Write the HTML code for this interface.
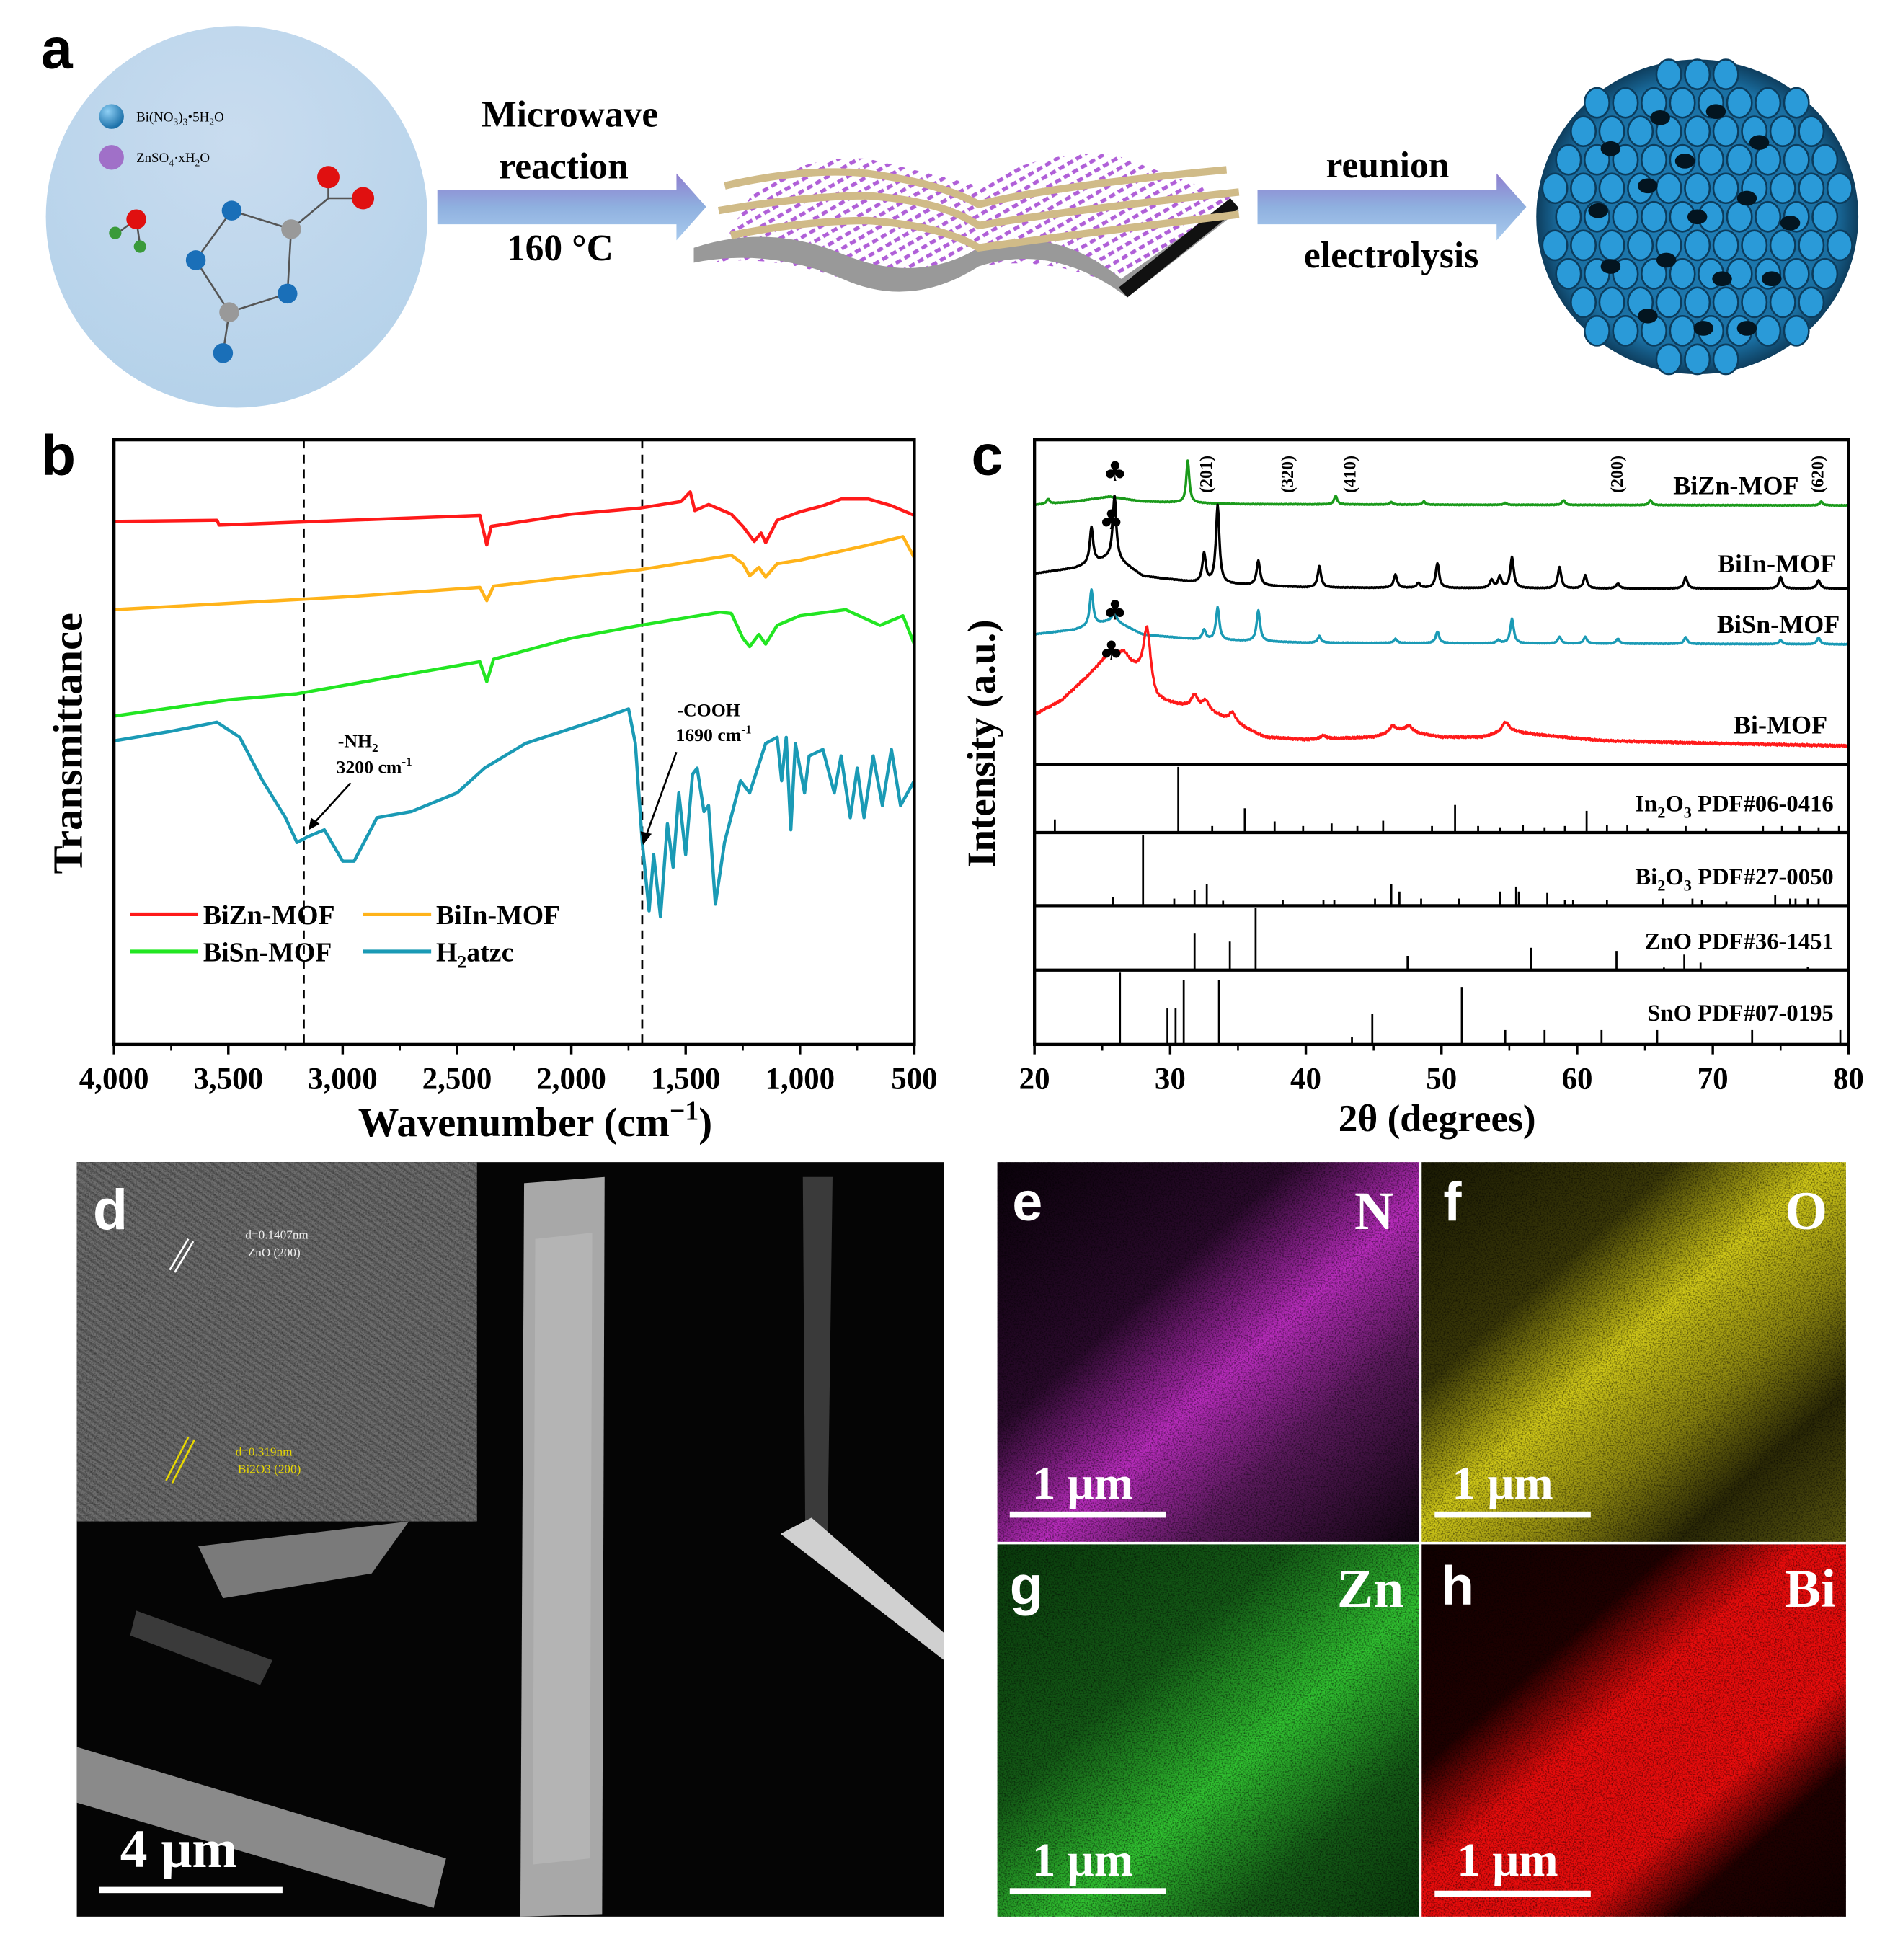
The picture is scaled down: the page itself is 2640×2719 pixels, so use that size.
<!DOCTYPE html>
<html><head><meta charset="utf-8">
<style>
html,body{margin:0;padding:0;background:#fff;}
svg{display:block;}
.serif{font-family:"Liberation Serif",serif;font-weight:bold;}
.sans{font-family:"Liberation Sans",sans-serif;font-weight:bold;}
</style></head>
<body>
<svg id="fig" width="2640" height="2719" viewBox="0 0 1536 1582" xmlns="http://www.w3.org/2000/svg">
<defs>
<radialGradient id="circG" cx="50%" cy="30%" r="70%"><stop offset="0" stop-color="#c9dcef"/><stop offset="1" stop-color="#b5d2ea"/></radialGradient>
<linearGradient id="arrG" x1="0" y1="0" x2="0" y2="1"><stop offset="0" stop-color="#8f7ecf"/><stop offset="0.5" stop-color="#8fb0df"/><stop offset="1" stop-color="#a9cbee"/></linearGradient>
<pattern id="hatch" width="8" height="8" patternUnits="userSpaceOnUse" patternTransform="rotate(-30)"><rect width="8" height="8" fill="#fff"/><rect width="5" height="3" fill="#b060d8"/></pattern>
<radialGradient id="ball" cx="35%" cy="30%" r="70%"><stop offset="0" stop-color="#8fd0f5"/><stop offset="1" stop-color="#1a6fa8"/></radialGradient>
<radialGradient id="sph" cx="50%" cy="50%" r="50%"><stop offset="0" stop-color="#1f7fb8"/><stop offset="0.85" stop-color="#1a6fa2"/><stop offset="1" stop-color="#0e3e5e"/></radialGradient>
<filter id="noise" x="0" y="0" width="100%" height="100%"><feTurbulence type="fractalNoise" baseFrequency="0.9" numOctaves="1" seed="3"/><feColorMatrix type="matrix" values="0 0 0 0 0  0 0 0 0 0  0 0 0 0 0  0 0 0 -2.6 1.5"/></filter>
<linearGradient id="bandN" x1="0" y1="0" x2="1" y2="1"><stop offset="0" stop-color="#0a020a"/><stop offset="0.35" stop-color="#2a0a2c"/><stop offset="0.55" stop-color="#b82cbc"/><stop offset="0.72" stop-color="#5a1a5c"/><stop offset="1" stop-color="#100410"/></linearGradient>
<linearGradient id="bandO" x1="0" y1="0" x2="1" y2="1"><stop offset="0" stop-color="#1a1a04"/><stop offset="0.3" stop-color="#3a3808"/><stop offset="0.48" stop-color="#d0c818"/><stop offset="0.65" stop-color="#8a8410"/><stop offset="0.8" stop-color="#2a2806"/><stop offset="1" stop-color="#5a5810"/></linearGradient>
<linearGradient id="bandZ" x1="0" y1="0" x2="1" y2="1"><stop offset="0" stop-color="#0a3a0c"/><stop offset="0.35" stop-color="#145a16"/><stop offset="0.58" stop-color="#30c030"/><stop offset="0.78" stop-color="#145a16"/><stop offset="1" stop-color="#0a3a0c"/></linearGradient>
<linearGradient id="bandB" x1="0" y1="0" x2="1" y2="1"><stop offset="0" stop-color="#100000"/><stop offset="0.3" stop-color="#200000"/><stop offset="0.45" stop-color="#e80c0c"/><stop offset="0.68" stop-color="#e80c0c"/><stop offset="0.8" stop-color="#200000"/><stop offset="1" stop-color="#100000"/></linearGradient>
<pattern id="lattice" width="5" height="5" patternUnits="userSpaceOnUse" patternTransform="rotate(35)"><rect width="5" height="5" fill="#6e6e6e"/><rect width="5" height="2" fill="#5a5a5a"/></pattern>
</defs>

<!-- ===== Panel a ===== -->
<g>
<text x="33" y="55" class="sans" font-size="46">a</text>
<circle cx="191" cy="175" r="154" fill="url(#circG)"/>
<circle cx="90" cy="94" r="10" fill="url(#ball)"/>
<text x="110" y="98" class="serif" font-size="11" style="font-weight:normal">Bi(NO<tspan font-size="8" dy="3">3</tspan><tspan dy="-3">)</tspan><tspan font-size="8" dy="3">3</tspan><tspan dy="-3">•5H</tspan><tspan font-size="8" dy="3">2</tspan><tspan dy="-3">O</tspan></text>
<circle cx="90" cy="127" r="10" fill="#a070c8"/>
<text x="110" y="131" class="serif" font-size="11" style="font-weight:normal">ZnSO<tspan font-size="8" dy="3">4</tspan><tspan dy="-3">·xH</tspan><tspan font-size="8" dy="3">2</tspan><tspan dy="-3">O</tspan></text>
<g stroke="#555" stroke-width="1.5">
<line x1="187" y1="170" x2="235" y2="185"/><line x1="235" y1="185" x2="265" y2="160"/><line x1="265" y1="160" x2="265" y2="143"/><line x1="265" y1="160" x2="292" y2="160"/>
<line x1="187" y1="170" x2="158" y2="210"/><line x1="158" y1="210" x2="185" y2="252"/><line x1="235" y1="185" x2="232" y2="237"/><line x1="232" y1="237" x2="185" y2="252"/><line x1="185" y1="252" x2="180" y2="285"/>
<line x1="110" y1="177" x2="95" y2="188"/><line x1="110" y1="177" x2="113" y2="198"/>
</g>
<circle cx="187" cy="170" r="8" fill="#1a6fb8"/><circle cx="158" cy="210" r="8" fill="#1a6fb8"/><circle cx="232" cy="237" r="8" fill="#1a6fb8"/><circle cx="180" cy="285" r="8" fill="#1a6fb8"/>
<circle cx="235" cy="185" r="8" fill="#999"/><circle cx="185" cy="252" r="8" fill="#999"/>
<circle cx="265" cy="143" r="9" fill="#e01010"/><circle cx="293" cy="160" r="9" fill="#e01010"/><circle cx="110" cy="177" r="8" fill="#e01010"/>
<circle cx="93" cy="188" r="5" fill="#3a9a3a"/><circle cx="113" cy="199" r="5" fill="#3a9a3a"/>

<polygon points="353,153 546,153 546,140 570,167 546,194 546,181 353,181" fill="url(#arrG)"/>
<text x="460" y="102" text-anchor="middle" class="serif" font-size="30">Microwave</text>
<text x="455" y="144" text-anchor="middle" class="serif" font-size="30">reaction</text>
<text x="452" y="210" text-anchor="middle" class="serif" font-size="30">160 °C</text>

<g>
<path d="M605,160 Q640,125 700,128 Q750,140 790,150 Q840,120 900,125 L995,160 L910,235 Q850,205 790,215 Q730,240 680,225 Q620,205 575,212 Z" fill="url(#hatch)"/>
<path d="M560,200 Q620,180 680,205 Q740,230 790,200 Q850,180 905,225 L995,162 L1000,170 L910,240 Q850,195 790,215 Q735,250 680,225 Q620,200 560,212 Z" fill="#999"/>
<path d="M903,232 L993,160 L1000,168 L910,240 Z" fill="#111"/>
<path d="M585,150 Q650,135 700,140 Q760,148 790,165 Q850,150 990,137" fill="none" stroke="#d0bb88" stroke-width="6"/>
<path d="M580,170 Q650,158 700,158 Q760,162 790,182 Q860,170 1000,155" fill="none" stroke="#d0bb88" stroke-width="6"/>
<path d="M590,190 Q650,178 700,178 Q760,182 790,200 Q860,190 1000,173" fill="none" stroke="#d0bb88" stroke-width="6"/>
</g>

<polygon points="1015,153 1208,153 1208,140 1232,167 1208,194 1208,181 1015,181" fill="url(#arrG)"/>
<text x="1120" y="143" text-anchor="middle" class="serif" font-size="30">reunion</text>
<text x="1123" y="216" text-anchor="middle" class="serif" font-size="30">electrolysis</text>

<g>
<ellipse cx="1370" cy="175" rx="130" ry="127" fill="url(#sph)"/>
<g id="sphHoles"></g>
</g>
</g>

<!-- ===== Panel b ===== -->
<g>
<text x="33" y="383" class="sans" font-size="46">b</text>
<g id="ftir"></g>
<rect x="92" y="355" width="646" height="488" fill="none" stroke="#000" stroke-width="2.5"/>
<text transform="translate(66,600) rotate(-90)" text-anchor="middle" class="serif" font-size="34">Transmittance</text>
<text x="432" y="917" text-anchor="middle" class="serif" font-size="33">Wavenumber (cm<tspan font-size="22" dy="-13">−1</tspan><tspan dy="13">)</tspan></text>
<text x="289" y="603" text-anchor="middle" class="serif" font-size="15">-NH<tspan font-size="10" dy="4">2</tspan></text>
<text x="302" y="624" text-anchor="middle" class="serif" font-size="15">3200 cm<tspan font-size="10" dy="-6">-1</tspan></text>
<line x1="283" y1="632" x2="252" y2="666" stroke="#000" stroke-width="1.5"/>
<polygon points="249,670 251,660 258,665" fill="#000"/>
<text x="572" y="578" text-anchor="middle" class="serif" font-size="15">-COOH</text>
<text x="576" y="598" text-anchor="middle" class="serif" font-size="15">1690 cm<tspan font-size="10" dy="-6">-1</tspan></text>
<line x1="546" y1="607" x2="521" y2="676" stroke="#000" stroke-width="1.5"/>
<polygon points="519,682 517,671 526,673" fill="#000"/>
</g>

<!-- ===== Panel c ===== -->
<g>
<text x="784" y="383" class="sans" font-size="46">c</text>
<g id="xrd"></g>
<rect x="835" y="355" width="657" height="488" fill="none" stroke="#000" stroke-width="2.5"/>
<text transform="translate(803,600) rotate(-90)" text-anchor="middle" class="serif" font-size="32">Intensity (a.u.)</text>
<text x="1160" y="913" text-anchor="middle" class="serif" font-size="31">2θ (degrees)</text>
</g>

<!-- ===== Panel d ===== -->
<g>
<rect x="62" y="938" width="700" height="609" fill="#050505"/>
<polygon points="423,955 488,950 486,1545 420,1547" fill="#a8a8a8"/>
<polygon points="432,1000 478,995 476,1500 430,1505" fill="#c0c0c0" opacity="0.5"/>
<polygon points="648,950 672,950 668,1240 650,1240" fill="#3a3a3a"/>
<polygon points="630,1238 655,1225 762,1318 762,1340" fill="#d0d0d0"/>
<polygon points="62,1410 360,1500 350,1540 62,1455" fill="#8a8a8a"/>
<polygon points="160,1248 330,1228 300,1270 180,1290" fill="#7a7a7a"/>
<polygon points="110,1300 220,1340 210,1360 105,1320" fill="#3a3a3a"/>
<rect x="62" y="938" width="323" height="290" fill="url(#lattice)"/>
<rect x="62" y="938" width="323" height="290" fill="#777" opacity="0.35" filter="url(#noise)"/>
<text x="75" y="992" class="sans" font-size="46" fill="#fff">d</text>
<line x1="137" y1="1025" x2="152" y2="1000" stroke="#fff" stroke-width="1.5"/><line x1="141" y1="1027" x2="156" y2="1002" stroke="#fff" stroke-width="1.5"/>
<text x="198" y="1000" class="serif" font-size="10" fill="#eee" style="font-weight:normal">d=0.1407nm</text>
<text x="200" y="1014" class="serif" font-size="10" fill="#eee" style="font-weight:normal">ZnO (200)</text>
<line x1="134" y1="1195" x2="152" y2="1160" stroke="#e8d800" stroke-width="1.5"/><line x1="139" y1="1197" x2="157" y2="1162" stroke="#e8d800" stroke-width="1.5"/>
<text x="190" y="1175" class="serif" font-size="10" fill="#e8d800" style="font-weight:normal">d=0.319nm</text>
<text x="192" y="1189" class="serif" font-size="10" fill="#e8d800" style="font-weight:normal">Bi2O3 (200)</text>
<rect x="80" y="1523" width="148" height="5" fill="#fff"/>
<text x="97" y="1507" class="serif" font-size="44" fill="#fff">4 μm</text>
</g>

<!-- ===== Panels e-h ===== -->
<g>
<rect x="805" y="938" width="341" height="307" fill="url(#bandN)"/>
<rect x="1147" y="938" width="343" height="307" fill="url(#bandO)"/>
<rect x="805" y="1246" width="341" height="301" fill="url(#bandZ)"/>
<rect x="1147" y="1246" width="343" height="301" fill="url(#bandB)"/>
<rect x="805" y="938" width="685" height="609" fill="#000" opacity="0.55" filter="url(#noise)"/>
<line x1="1146.5" y1="938" x2="1146.5" y2="1547" stroke="#fff" stroke-width="2"/>
<line x1="805" y1="1245.5" x2="1490" y2="1245.5" stroke="#fff" stroke-width="2"/>
<text x="817" y="985" class="sans" font-size="44" fill="#fff">e</text>
<text x="1165" y="985" class="sans" font-size="44" fill="#fff">f</text>
<text x="815" y="1295" class="sans" font-size="44" fill="#fff">g</text>
<text x="1163" y="1295" class="sans" font-size="44" fill="#fff">h</text>
<text x="1125" y="992" text-anchor="end" class="serif" font-size="44" fill="#fff">N</text>
<text x="1475" y="992" text-anchor="end" class="serif" font-size="44" fill="#fff">O</text>
<text x="1133" y="1297" text-anchor="end" class="serif" font-size="44" fill="#fff">Zn</text>
<text x="1482" y="1297" text-anchor="end" class="serif" font-size="44" fill="#fff">Bi</text>
<rect x="815" y="1220" width="126" height="5" fill="#fff"/>
<text x="833" y="1210" class="serif" font-size="38" fill="#fff">1 μm</text>
<rect x="1158" y="1220" width="126" height="5" fill="#fff"/>
<text x="1172" y="1210" class="serif" font-size="38" fill="#fff">1 μm</text>
<rect x="815" y="1524" width="126" height="5" fill="#fff"/>
<text x="833" y="1514" class="serif" font-size="38" fill="#fff">1 μm</text>
<rect x="1158" y="1526" width="126" height="5" fill="#fff"/>
<text x="1176" y="1514" class="serif" font-size="38" fill="#fff">1 μm</text>
</g>
</svg>

<script>
// ---------- FTIR data (wavenumber cm-1, transmittance a.u.) ----------
const ftirTicks = [4000,3500,3000,2500,2000,1500,1000,500];
const ftirTickLabels = ["4,000","3,500","3,000","2,500","2,000","1,500","1,000","500"];
const biznW = [4000,3550,3540,2400,2370,2350,2000,1700,1520,1480,1460,1400,1300,1250,1200,1170,1150,1100,1000,900,820,700,600,500];
const biznT = [86.5,86.7,85.9,87.5,82.6,85.7,87.7,88.7,89.8,91.4,88.3,89.3,87.7,85.7,83.2,84.6,83.0,86.7,88.1,89.1,90.2,90.2,89.1,87.5];
const biinW = [4000,3000,2400,2370,2340,2000,1700,1300,1250,1220,1180,1150,1100,1000,700,550,500];
const biinT = [71.9,74.0,75.6,73.4,75.8,77.3,78.5,80.9,79.5,77.5,78.9,77.3,79.5,80.1,82.6,84.0,80.5];
const bisnW = [4000,3500,3200,2900,2400,2370,2340,2000,1700,1350,1300,1250,1220,1180,1150,1100,1000,800,650,550,500];
const bisnT = [54.3,57.0,58.0,60.0,63.3,60.0,63.7,67.2,69.3,71.5,71.3,67.2,65.8,67.8,66.2,69.3,70.9,71.9,69.3,70.9,66.2];
const h2W = [4000,3750,3550,3450,3350,3250,3200,3150,3080,3000,2950,2850,2700,2500,2380,2200,1900,1750,1720,1690,1660,1640,1610,1580,1555,1530,1500,1470,1450,1420,1400,1370,1330,1260,1220,1150,1100,1080,1060,1040,1020,1000,980,960,900,850,820,780,750,720,680,640,600,560,530,500];
const h2T = [50.2,51.8,53.3,50.8,43.6,37.5,33.4,34.4,35.5,30.3,30.3,37.5,38.5,41.6,45.7,49.8,53.5,55.5,49.8,33.4,22.1,31.4,21.1,36.5,29.3,41.6,31.4,44.7,45.7,38.5,39.5,23.2,33.4,43.6,41.6,49.8,50.8,43.6,50.8,35.5,49.8,45.7,41.6,47.7,48.8,41.6,47.7,37.5,45.7,37.5,47.7,39.5,48.8,39.5,41.6,43.6];
const ftirNames = ["BiZn-MOF","BiIn-MOF","BiSn-MOF","H₂atzc"];
const ftirColors = ["#ff1a1a","#ffb31a","#22e622","#1a9ab5"];
const dashedW = [3170,1690];

// ---------- XRD data (2θ degrees, intensity a.u.) ----------
const xrdTicks = [20,30,40,50,60,70,80];
const bizBaseX = [20,23,25.5,28,35,50,80];
const bizBaseY = [80.0,81.0,82.5,81.0,80.2,80.0,79.8];
const bizPkX = [21,31.3,42.2,46.3,48.7,54.7,59,65.4,78];
const bizPkH = [1.5,13,2.7,0.8,1,0.6,1.5,1.5,1.2];
const biinBaseX = [20,23,25.8,28,32,40,60,80];
const biinBaseY = [58.8,60.5,64,58,56.0,54.5,54.2,54.2];
const biinPkX = [24.2,25.9,32.5,33.5,36.5,41,46.6,48.3,49.7,53.7,54.3,55.2,58.7,60.6,63,68,75,77.8];
const biinPkH = [11,19,9,24,7.6,6.5,4,1.5,7.6,2.5,3.5,9.5,6.5,4,1.5,3.5,3.5,2.5];
const bisnBaseX = [20,23,25.8,28,32,40,80];
const bisnBaseY = [40.1,41.5,44.5,40,38.5,37.5,37.0];
const bisnPkX = [24.2,25.9,32.5,33.5,36.5,41,46.6,49.7,54.2,55.2,58.7,60.6,63,68,75,77.8];
const bisnPkH = [11,3,3,10,9.5,2,1.2,3.5,1,7.5,2,2,1.5,2,1.2,2];
const bimBaseX = [20,22,24,25.7,27,28,29,31,33,35,37,40,45,47,50,53,55,57,59,62,70,80];
const bimBaseY = [15.3,19.8,27.5,35.1,31.3,27.5,19.8,17.9,16.0,12.2,8.4,7.6,8.4,10.3,8.4,8.4,10.3,9.2,8.4,7.3,6.5,5.7];
const bimPkX = [26.6,28.3,31.8,32.6,34.6,41.3,46.4,47.6,54.7];
const bimPkH = [2,17,4,3,3,1,2,2,3];
const refLabelsHtml = [
  'In<tspan font-size="13" dy="5">2</tspan><tspan dy="-5">O</tspan><tspan font-size="13" dy="5">3</tspan><tspan dy="-5"> PDF#06-0416</tspan>',
  'Bi<tspan font-size="13" dy="5">2</tspan><tspan dy="-5">O</tspan><tspan font-size="13" dy="5">3</tspan><tspan dy="-5"> PDF#27-0050</tspan>',
  'ZnO PDF#36-1451',
  'SnO PDF#07-0195'];
const in2o3X = [21.5,30.6,33.1,35.5,37.7,39.8,41.9,43.8,45.7,49.3,51.0,52.7,54.3,56.0,57.6,59.1,60.7,62.2,63.7,65.2,68,69.5,73.7,75.1,76.4,77.8,79.3];
const in2o3H = [0.2,1.0,0.1,0.37,0.17,0.1,0.14,0.1,0.18,0.1,0.42,0.1,0.08,0.12,0.08,0.1,0.33,0.12,0.12,0.06,0.1,0.06,0.1,0.1,0.1,0.08,0.1];
const bi2o3X = [25.8,28.0,30.3,31.8,32.7,33.9,38.3,41.3,42.1,45.1,46.3,46.9,48.5,51.3,54.3,55.5,55.7,57.8,59.1,59.7,62.2,66.3,68.5,69.2,71,74.6,75.7,76.1,77,77.8];
const bi2o3H = [0.12,1.0,0.1,0.22,0.3,0.07,0.08,0.08,0.08,0.1,0.3,0.2,0.1,0.1,0.2,0.27,0.2,0.18,0.08,0.08,0.08,0.1,0.1,0.08,0.06,0.15,0.1,0.1,0.1,0.1];
const znoX = [31.8,34.4,36.3,47.5,56.6,62.9,66.4,67.9,69.1,72.6,77];
const znoH = [0.6,0.46,1.0,0.23,0.36,0.31,0.04,0.25,0.12,0.02,0.05];
const snoX = [26.3,29.8,30.4,31.0,33.6,43.4,44.9,51.5,54.7,57.6,61.8,65.9,72.9,79.4];
const snoH = [1.0,0.5,0.5,0.9,0.9,0.1,0.42,0.8,0.2,0.2,0.2,0.2,0.2,0.2];
const millerLabels = ["(201)","(320)","(410)","(200)","(620)"];
const millerX = [32.6,38.6,43.2,62.9,77.7];

const NS = "http://www.w3.org/2000/svg";
function mk(tag, attrs, parent){ const e=document.createElementNS(NS,tag); for(const k in attrs) e.setAttribute(k,attrs[k]); parent.appendChild(e); return e; }

// FTIR axes
const bx = w => 92 + (4000 - w) / 3500 * 646;
const by = v => 843 - v * 4.88;
const ftir = document.getElementById('ftir');
dashedW.forEach(w=>{
  const l = mk('line',{x1:bx(w),x2:bx(w),y1:355,y2:843,stroke:'#000','stroke-width':1.6,'stroke-dasharray':'7,5'},ftir);
  
  
});
[[biznW,biznT],[biinW,biinT],[bisnW,bisnT],[h2W,h2T]].forEach((s,si)=>{
  let d='';
  s[0].forEach((w,i)=>{ d += (i?'L':'M') + bx(w).toFixed(1) + ',' + by(s[1][i]).toFixed(1); });
  const p = mk('path',{d:d,fill:'none',stroke:ftirColors[si],'stroke-width':2.6,'stroke-linejoin':'round'},ftir);
  
  
});
ftirTicks.forEach((t,i)=>{
  mk('line',{x1:bx(t),x2:bx(t),y1:843,y2:851,stroke:'#000','stroke-width':2},ftir);
  if(i<ftirTicks.length-1) mk('line',{x1:bx(t-250),x2:bx(t-250),y1:843,y2:848,stroke:'#000','stroke-width':1.5},ftir);
  const tx = mk('text',{x:bx(t),y:879,'text-anchor':'middle','class':'serif','font-size':25},ftir);
  tx.textContent = ftirTickLabels[i];
  
  
});
const legPos = [[105,738],[293,738],[105,768],[293,768]];
ftirNames.forEach((n,i)=>{
  const [lx,ly]=legPos[i];
  const ln = mk('line',{x1:lx,x2:lx+55,y1:ly,y2:ly,stroke:ftirColors[i],'stroke-width':3},ftir);
  
  
  const t = mk('text',{x:lx+59,y:ly+8,'class':'serif','font-size':22},ftir);
  if(i===3){ t.innerHTML='H<tspan font-size="15" dy="5">2</tspan><tspan dy="-5">atzc</tspan>'; } else t.textContent=n;
  
  
});

// XRD axes
const cx = t => 835 + (t - 20) / 60 * 657;
const cyTop = v => 617 - v * 2.62;
const xrd = document.getElementById('xrd');
function interp(xs, ys, x){
  if(x<=xs[0]) return ys[0];
  for(let i=1;i<xs.length;i++){ if(x<=xs[i]){ const f=(x-xs[i-1])/(xs[i]-xs[i-1]); return ys[i-1]+f*(ys[i]-ys[i-1]); } }
  return ys[ys.length-1];
}
function pattern(bX,bY,pX,pH,w){
  const pts=[];
  for(let t=20;t<=80.001;t+=0.05){
    let v=interp(bX,bY,t);
    pX.forEach((p,i)=>{ const dd=(t-p)/w; v+=pH[i]/(1+dd*dd); });
    pts.push([t,v]);
  }
  return pts;
}
const xrdSeries = [
  ['bizn-mof','#1a9a1a',bizBaseX,bizBaseY,bizPkX,bizPkH,0.13],
  ['biin-mof','#000000',biinBaseX,biinBaseY,biinPkX,biinPkH,0.15],
  ['bisn-mof','#1a9ab5',bisnBaseX,bisnBaseY,bisnPkX,bisnPkH,0.15],
  ['bi-mof','#ff1a1a',bimBaseX,bimBaseY,bimPkX,bimPkH,0.3]
];
xrdSeries.forEach(s=>{
  const pts=pattern(s[2],s[3],s[4],s[5],s[6]);
  let d='';
  pts.forEach((p,i)=>{ const nz = s[0]==='bi-mof' ? (((i*131)%17)-8)/10 : (((i*37)%7)-3)/12; d+=(i?'L':'M')+cx(p[0]).toFixed(1)+','+(cyTop(p[1])+nz).toFixed(1); });
  const p = mk('path',{d:d,fill:'none',stroke:s[1],'stroke-width':2,'stroke-linejoin':'round'},xrd);
  
  
});
const refPanels = [[617,672,in2o3X,in2o3H],[672,731,bi2o3X,bi2o3H],[731,783,znoX,znoH],[783,843,snoX,snoH]];
const refLabelY = [655,714,766,824];
refPanels.forEach((r,ri)=>{
  const [top,bot,xs,hs]=r;
  const sep = mk('line',{x1:835,x2:1492,y1:top,y2:top,stroke:'#000','stroke-width':2.5},xrd);
  
  
  xs.forEach((x,i)=>{
    const l = mk('line',{x1:cx(x),x2:cx(x),y1:bot,y2:bot-hs[i]*(bot-top-2),stroke:'#000','stroke-width':1.6},xrd);
    
    
  });
  const t = mk('text',{x:1480,y:refLabelY[ri],'text-anchor':'end','class':'serif','font-size':19},xrd);
  t.innerHTML = refLabelsHtml[ri];
  
  
});
const sampLab = [['BiZn-MOF',1452,399],['BiIn-MOF',1482,462],['BiSn-MOF',1485,511],['Bi-MOF',1475,592]];
sampLab.forEach(s=>{
  const t = mk('text',{x:s[1],y:s[2],'text-anchor':'end','class':'serif','font-size':21},xrd);
  t.textContent=s[0];
  
  
});
millerLabels.forEach((m,i)=>{
  const t = mk('text',{transform:'translate('+(cx(millerX[i])+5)+',398) rotate(-90)','class':'serif','font-size':14},xrd);
  t.textContent=m;
  
  
});
[[900,388],[897,427],[900,500],[897,533]].forEach(c=>{
  const t = mk('text',{x:c[0],y:c[1],'text-anchor':'middle','font-size':22,'font-family':'DejaVu Sans, sans-serif'},xrd);
  t.textContent='♣';
  
  
});
xrdTicks.forEach((t,i)=>{
  mk('line',{x1:cx(t),x2:cx(t),y1:843,y2:851,stroke:'#000','stroke-width':2},xrd);
  if(i<xrdTicks.length-1) mk('line',{x1:cx(t+5),x2:cx(t+5),y1:843,y2:848,stroke:'#000','stroke-width':1.5},xrd);
  const tx = mk('text',{x:cx(t),y:879,'text-anchor':'middle','class':'serif','font-size':25},xrd);
  tx.textContent=String(t);
  
  
});

// sphere: small ball texture with dark holes (decorative)
const holes=document.getElementById('sphHoles');
for(let r=0;r<11;r++){
  for(let c=0;c<11;c++){
    const x=1255+c*23+(r%2)*11, y=60+r*23;
    const dx=x-1370, dy=y-175;
    if(dx*dx/(125*125)+dy*dy/(122*122)>1) continue;
    mk('ellipse',{cx:x,cy:y,rx:10,ry:12,fill:'#2a9ad8',stroke:'#0c3c5c','stroke-width':1.5},holes);
  }
}
[[1300,120],[1340,95],[1385,90],[1420,115],[1290,170],[1330,150],[1370,175],[1410,160],[1445,180],[1300,215],[1345,210],[1390,225],[1430,225],[1330,255],[1375,265],[1410,265],[1360,130]].forEach(h=>{
  mk('ellipse',{cx:h[0],cy:h[1],rx:8,ry:6,fill:'#031520'},holes);
});
</script>
</body></html>
